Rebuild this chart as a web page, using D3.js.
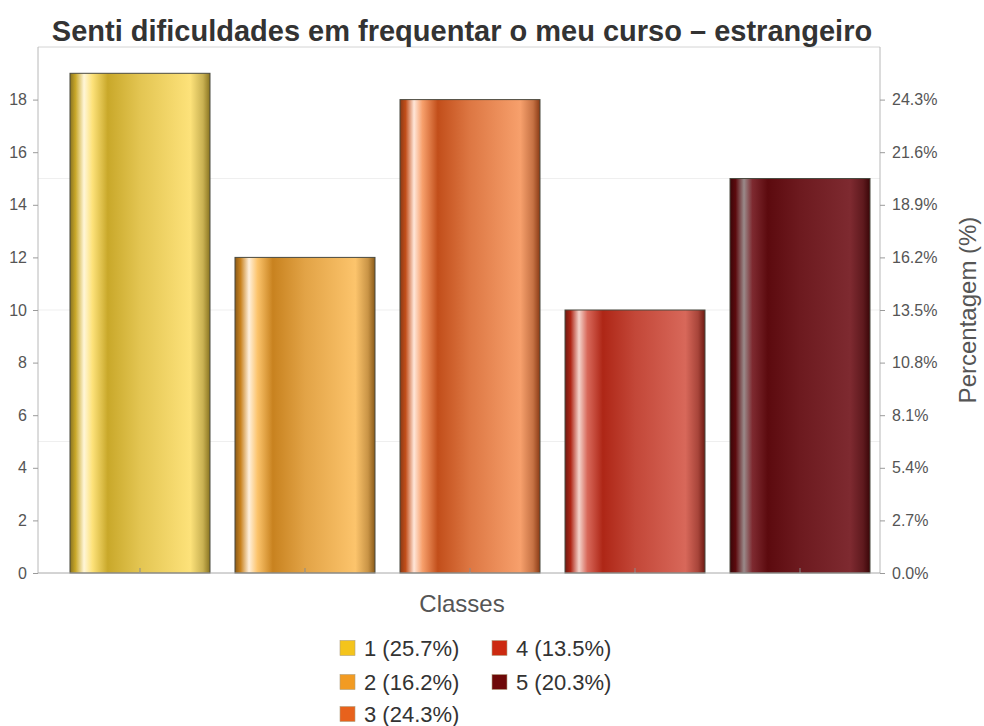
<!DOCTYPE html>
<html>
<head>
<meta charset="utf-8">
<script src="https://cdn.jsdelivr.net/npm/d3@7"></script>
<style>
  body { margin: 0; background: #fff; }
  text { font-family: "Liberation Sans", Arial, sans-serif; }
</style>
</head>
<body>
<div id="chart"></div>
<script>
// data
var classes = ["1", "2", "3", "4", "5"];
var counts = [19, 12, 18, 10, 15];
var leftTicks = [0, 2, 4, 6, 8, 10, 12, 14, 16, 18];
var gridValues = [5, 10, 15];
// bar gradient colours: [edge, highlight, dark, light]
var barColors = [
  ["#8a7420", "#fff6d8", "#c9a82a", "#fde27a"],
  ["#8a5a18", "#fff0dc", "#c8821f", "#fcc46c"],
  ["#8a3a14", "#ffe6d8", "#c24e1a", "#f7a06c"],
  ["#6e1a12", "#f4d4cc", "#ae2616", "#d8685a"],
  ["#3a0608", "#9a8a8a", "#5c0a0e", "#7e2a30"]
];
var legendColors = ["#f4c41c", "#f29b22", "#e8621c", "#cc2a10", "#6e0808"];

var svgWidth = 984;
var svgHeight = 726;
var total = d3.sum(counts);

var margin = { top: 47, left: 38, right: 104, bottom: 153 };
var plotRight = svgWidth - margin.right; // 880
var plotBottom = svgHeight - margin.bottom; // 573

var svg = d3
  .select("#chart")
  .append("svg")
  .attr("width", svgWidth)
  .attr("height", svgHeight);

var defs = svg.append("defs");

// scales
var x = d3
  .scaleBand()
  .domain(classes)
  .range([57.5, 882.5])
  .paddingInner(0.1515)
  .paddingOuter(0.0757);

var y = d3.scaleLinear().domain([0, 20]).range([plotBottom, margin.top]);

// frame top line
svg
  .append("line")
  .attr("x1", margin.left)
  .attr("x2", plotRight)
  .attr("y1", margin.top)
  .attr("y2", margin.top)
  .attr("stroke", "#d4d4d4");

// faint grid
svg
  .selectAll("line.grid")
  .data(gridValues)
  .enter()
  .append("line")
  .attr("class", "grid")
  .attr("x1", margin.left)
  .attr("x2", plotRight)
  .attr("y1", (d) => y(d))
  .attr("y2", (d) => y(d))
  .attr("stroke", "#efefef");

// gradients per bar
barColors.forEach(function (c, i) {
  var g = defs
    .append("linearGradient")
    .attr("id", "grad" + i)
    .attr("x1", "0%")
    .attr("x2", "100%")
    .attr("y1", "0%")
    .attr("y2", "0%");
  var stops = [
    [0, c[0]],
    [0.04, c[2]],
    [0.1, c[1]],
    [0.16, c[3]],
    [0.27, c[2]],
    [0.5, d3.interpolateRgb(c[2], c[3])(0.5)],
    [0.86, c[3]],
    [0.95, d3.interpolateRgb(c[3], c[0])(0.45)],
    [1, c[0]]
  ];
  stops.forEach(function (s) {
    g.append("stop").attr("offset", s[0] * 100 + "%").attr("stop-color", s[1]);
  });
});

// bars
svg
  .selectAll("rect.bar")
  .data(counts)
  .enter()
  .append("rect")
  .attr("class", "bar")
  .attr("x", (d, i) => x(classes[i]))
  .attr("y", (d) => y(d))
  .attr("width", x.bandwidth())
  .attr("height", (d) => plotBottom - y(d))
  .attr("fill", (d, i) => "url(#grad" + i + ")")
  .attr("stroke", "#4a4a40")
  .attr("stroke-width", 1);

// left axis
var leftAxis = d3.axisLeft(y).tickValues(leftTicks).tickSize(5).tickPadding(6);
var gLeft = svg
  .append("g")
  .attr("transform", `translate(${margin.left},0)`)
  .call(leftAxis);

// right axis (percent of total)
var rightAxis = d3
  .axisRight(y)
  .tickValues(leftTicks)
  .tickSize(5)
  .tickPadding(7)
  .tickFormat((d) => ((d / total) * 100).toFixed(1) + "%");
var gRight = svg
  .append("g")
  .attr("transform", `translate(${plotRight},0)`)
  .call(rightAxis);

// bottom axis, small inner ticks
var bottomAxis = d3.axisBottom(x).tickSize(-5).tickFormat("");
var gBottom = svg
  .append("g")
  .attr("transform", `translate(0,${plotBottom})`)
  .call(bottomAxis);
gBottom.select(".domain").remove();
gBottom
  .append("line")
  .attr("x1", margin.left)
  .attr("x2", plotRight)
  .attr("stroke", "#a8a8a8");

[gLeft, gRight].forEach(function (g) {
  g.select(".domain").attr("stroke", "#b8b8b8").attr("d", function () {
    return `M0,${plotBottom}V${margin.top}`;
  });
  g.selectAll(".tick line").attr("stroke", "#9a9a9a");
  g.selectAll(".tick text")
    .attr("fill", "#555")
    .style("font-size", "16px")
    .style("font-family", '"Liberation Sans", Arial, sans-serif');
});
gBottom.selectAll(".tick line").attr("stroke", "#8a8a8a");

// title
svg
  .append("text")
  .attr("x", 462)
  .attr("y", 41)
  .attr("text-anchor", "middle")
  .attr("fill", "#333")
  .style("font-size", "29px")
  .style("font-weight", "bold")
  .text("Senti dificuldades em frequentar o meu curso \u2013 estrangeiro");

// x label
svg
  .append("text")
  .attr("x", 462)
  .attr("y", 612)
  .attr("text-anchor", "middle")
  .attr("fill", "#555")
  .style("font-size", "24px")
  .text("Classes");

// right label
svg
  .append("text")
  .attr("transform", "translate(976,310) rotate(-90)")
  .attr("text-anchor", "middle")
  .attr("fill", "#555")
  .style("font-size", "24px")
  .text("Percentagem (%)");

// legend
var legendPos = [
  [340, 648], [340, 682], [340, 714], [492, 648], [492, 682]
];
var legend = svg
  .selectAll("g.legend")
  .data(counts)
  .enter()
  .append("g")
  .attr("class", "legend")
  .attr("transform", (d, i) => `translate(${legendPos[i][0]},${legendPos[i][1]})`);

legend
  .append("rect")
  .attr("x", 0)
  .attr("y", -7.5)
  .attr("width", 15)
  .attr("height", 15)
  .attr("fill", (d, i) => legendColors[i])
  .attr("stroke", "#b0a080")
  .attr("stroke-width", 0.6);

legend
  .append("text")
  .attr("x", 24)
  .attr("y", 8)
  .attr("fill", "#333")
  .style("font-size", "22px")
  .text((d, i) => `${classes[i]} (${((d / total) * 100).toFixed(1)}%)`);
</script>
</body>
</html>
